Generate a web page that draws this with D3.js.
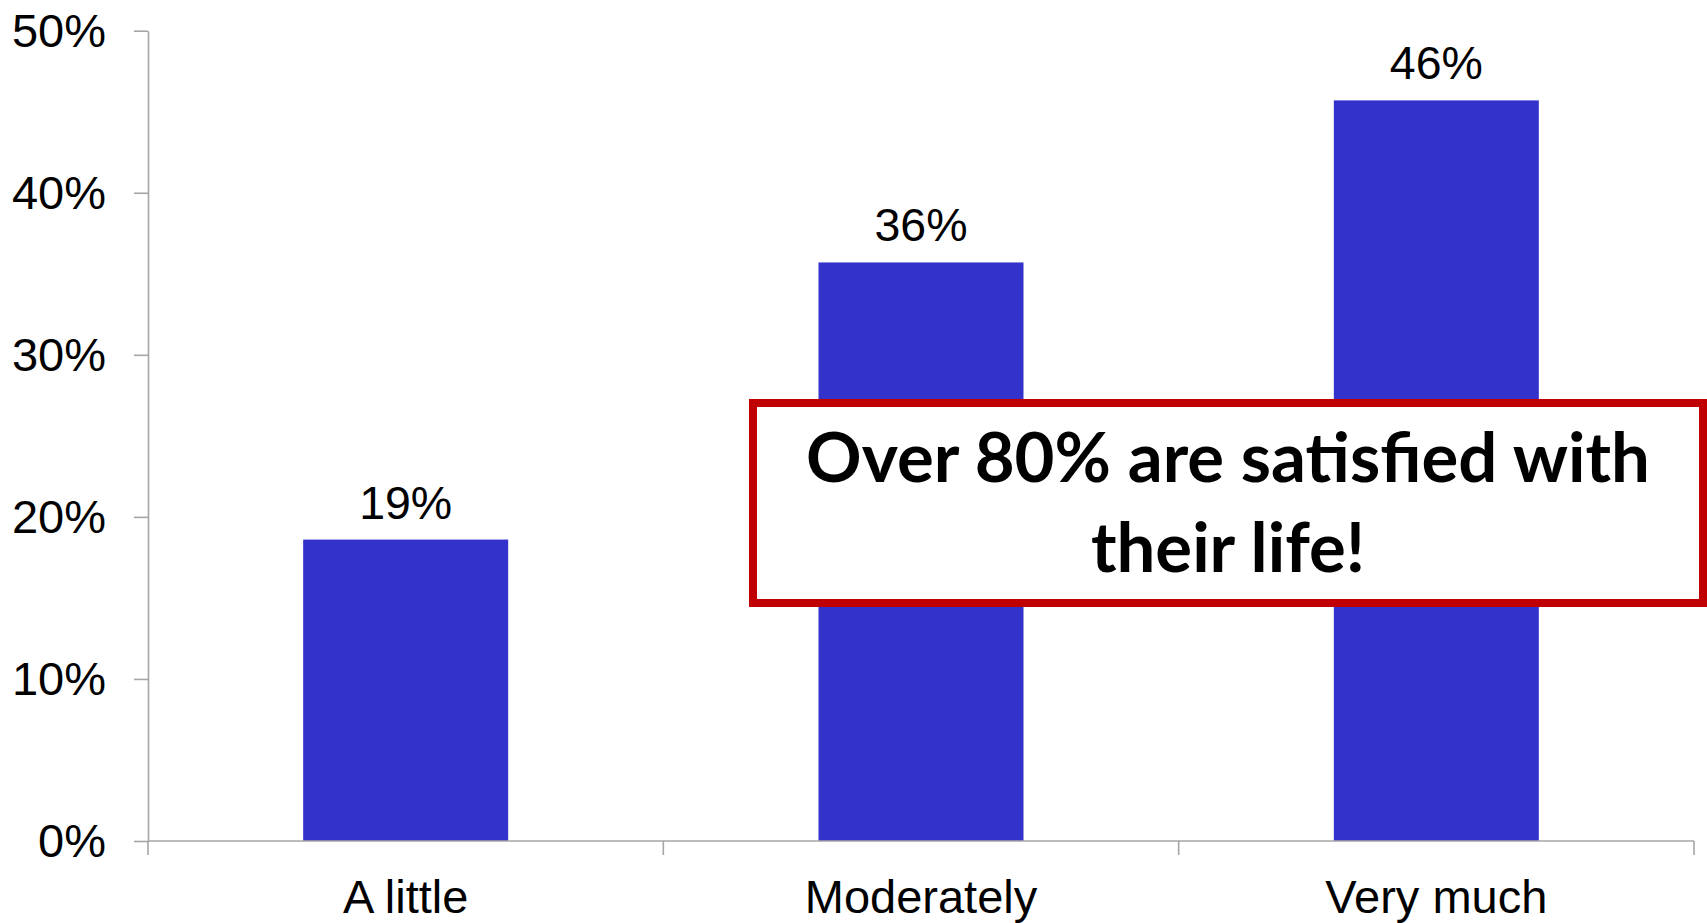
<!DOCTYPE html>
<html><head><meta charset="utf-8">
<script src="https://cdn.jsdelivr.net/npm/d3@7"></script>
<style>html,body{margin:0;padding:0;background:#fff;overflow:hidden}</style>
</head><body>
<svg id="c" width="1707" height="923"></svg>
<script>
const categories = ["A little", "Moderately", "Very much"];
const values = [18.6, 35.7, 45.7];
const valueLabels = ["19%", "36%", "46%"];
const yTicks = [0, 10, 20, 30, 40, 50];
const calloutLines = ["Over 80% are satisfied with", "their life!"];

(function () {
const svg = d3.select("#c");
const pLeft = 148, pRight = 1694, pTop = 30.7, pBottom = 841;
const xb = d3.scaleBand().domain(categories).range([pLeft, pRight]);
const y = d3.scaleLinear().domain([0, 50]).range([pBottom, pTop]);
const axisColor = "#a6a6a6";
const font = "'Liberation Sans', Arial, sans-serif";

// bars
svg.append("g").selectAll("rect").data(values).join("rect")
  .attr("x", (d, i) => xb(categories[i]) + xb.bandwidth() / 2 - 102.5)
  .attr("width", 205)
  .attr("y", d => y(d))
  .attr("height", d => y(0) - y(d))
  .attr("fill", "#3333cc");

// value labels
svg.append("g").selectAll("text").data(values).join("text")
  .attr("x", (d, i) => xb(categories[i]) + xb.bandwidth() / 2)
  .attr("y", d => y(d) - 21)
  .attr("text-anchor", "middle")
  .attr("font-family", font).attr("font-size", 46.5).attr("fill", "#000")
  .text((d, i) => valueLabels[i]);

// y axis
const ya = svg.append("g").attr("transform", `translate(${pLeft},0)`)
  .call(d3.axisLeft(y).tickValues(yTicks).tickFormat(d => d + "%").tickSize(14).tickSizeOuter(0).tickPadding(28));
ya.select(".domain").attr("stroke", axisColor).attr("stroke-width", 1.6);
ya.selectAll(".tick line").attr("stroke", axisColor).attr("stroke-width", 1.6);
ya.selectAll(".tick text").attr("font-family", font).attr("font-size", 47).attr("fill", "#000").attr("dy", "0.33em");

// x axis
const xa = svg.append("g").attr("transform", `translate(0,${pBottom})`)
  .call(d3.axisBottom(xb).tickSize(0).tickPadding(0).tickFormat(() => ""));
xa.select(".domain").attr("stroke", axisColor).attr("stroke-width", 1.6).attr("d", `M${pLeft},0H${pRight}`);
const bounds = categories.map(c => xb(c)).concat([pRight]);
svg.append("g").selectAll("line").data(bounds).join("line")
  .attr("x1", d => d).attr("x2", d => d)
  .attr("y1", pBottom).attr("y2", pBottom + 14)
  .attr("stroke", axisColor).attr("stroke-width", 1.6);
svg.append("g").selectAll("text").data(categories).join("text")
  .attr("x", d => xb(d) + xb.bandwidth() / 2)
  .attr("y", 913)
  .attr("text-anchor", "middle")
  .attr("font-family", font).attr("font-size", 47).attr("fill", "#000")
  .text(d => d);

// callout box
svg.append("rect")
  .attr("x", 753).attr("y", 403).attr("width", 950).attr("height", 200)
  .attr("fill", "#fff").attr("stroke", "#c00000").attr("stroke-width", 8);
const cx = 1228;
const bfont = "Lato, 'Open Sans', sans-serif";
const t1 = svg.append("text").attr("x", cx).attr("y", 482).attr("text-anchor", "middle")
  .attr("font-family", bfont).attr("font-weight", "bold").attr("font-size", 70).attr("fill", "#000")
  .text(calloutLines[0]);
const w = t1.node().getComputedTextLength();
const fs = 70 * 844 / w;
t1.attr("font-size", fs);
svg.append("text").attr("x", cx).attr("y", 572).attr("text-anchor", "middle")
  .attr("font-family", bfont).attr("font-weight", "bold").attr("font-size", fs).attr("fill", "#000")
  .text(calloutLines[1]);
})();
</script>
</body></html>
